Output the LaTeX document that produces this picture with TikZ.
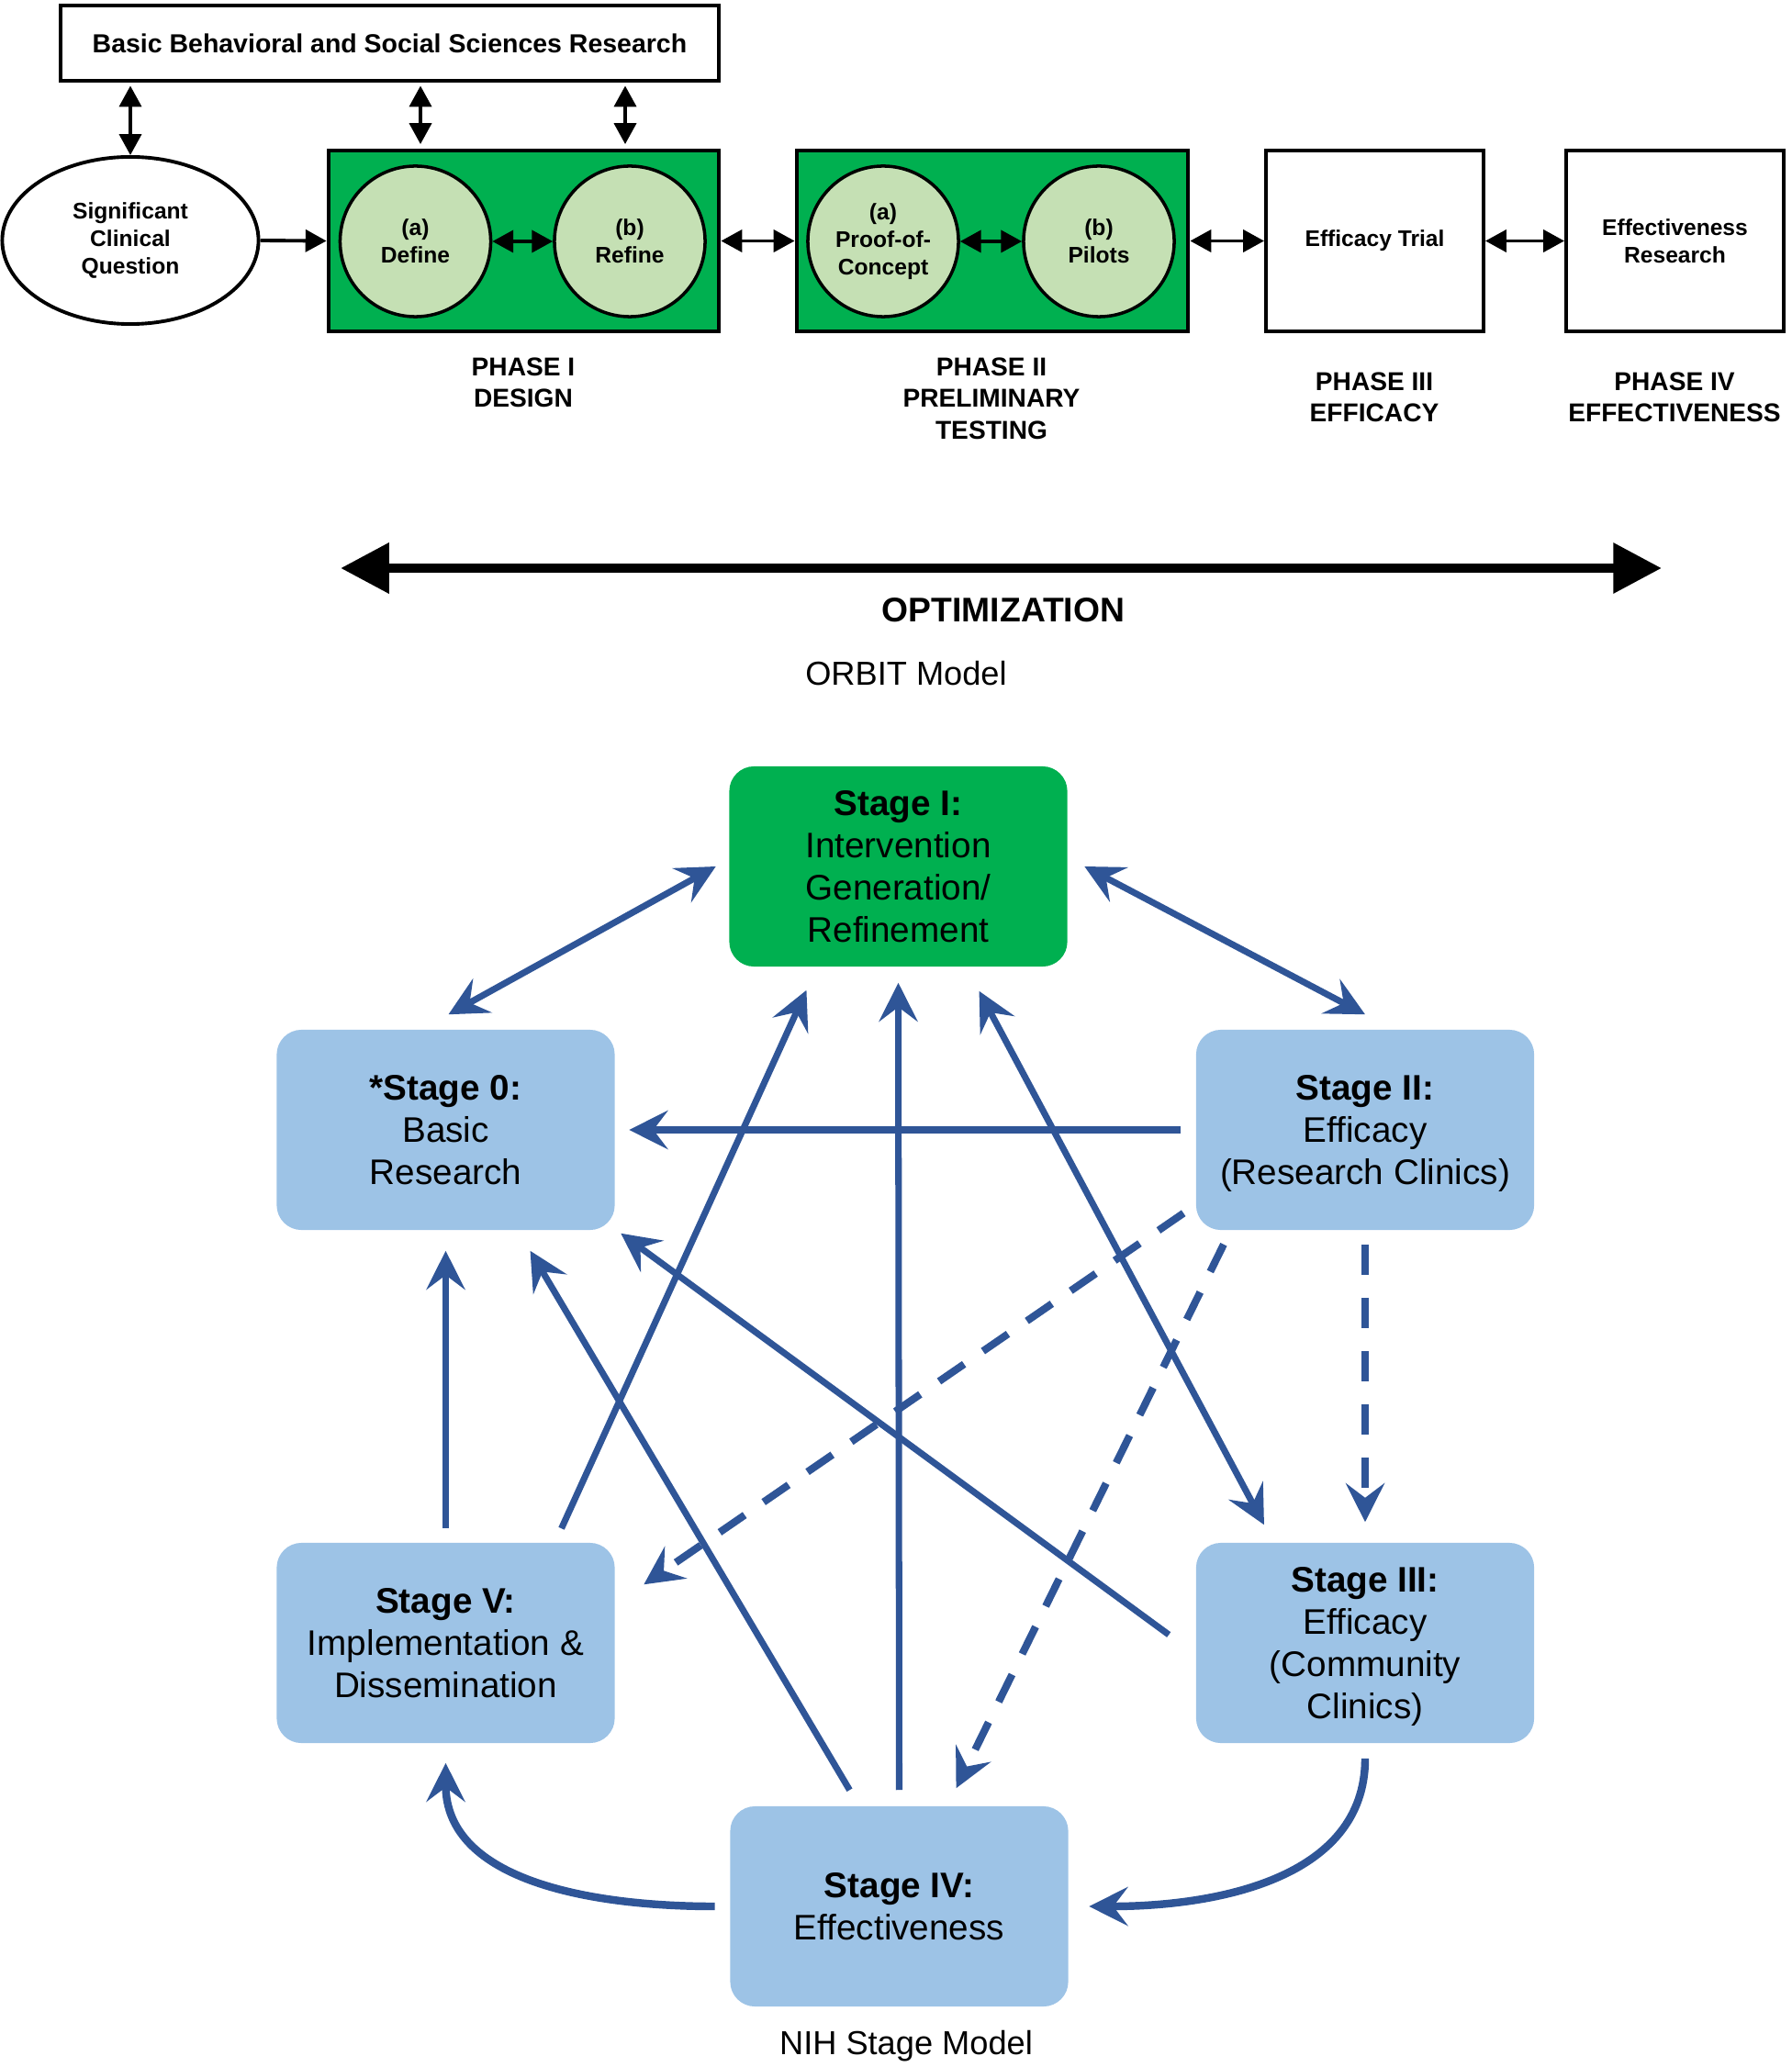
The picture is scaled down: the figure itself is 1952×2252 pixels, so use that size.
\documentclass[tikz,border=0pt]{standalone}
\usepackage{fontspec}
\setmainfont{Liberation Sans}
\usepackage{tikz}
\usetikzlibrary{positioning}
\usetikzlibrary{arrows.meta}
\usetikzlibrary{shapes.geometric}
\definecolor{stagegreen}{HTML}{00B050}
\definecolor{circgreen}{HTML}{C5E0B4}
\definecolor{stageblue}{HTML}{9DC3E6}
\definecolor{arrowblue}{HTML}{2F5597}
\newcommand{\nodepth}[1]{\raisebox{0pt}[\height][0pt]{#1}}
\tikzset{
topbox/.style={ % Sets the properties for the plain boxes of the ORBIT part
draw, line width=1.1pt, fill=white,
align=center, font=\fontsize{7}{8.5}\selectfont\bfseries},
phasebox/.style={ % Green phase rectangles
draw, line width=1.3pt, fill=stagegreen,
minimum width=4.25cm, minimum height=1.97cm},
subphase/.style={ % Circles inside a phase
circle, draw, line width=1pt, fill=circgreen, inner sep=0pt,
minimum size=1.64cm, align=center, font=\fontsize{7}{8.5}\selectfont\bfseries},
phaselabel/.style={align=center, font=\fontsize{8}{9.8}\selectfont\bfseries},
link/.style={ % Black double arrows
black, line width=1.1pt,
{Triangle[length=6.5pt,width=6.8pt]}-{Triangle[length=6.5pt,width=6.8pt]}},
stage/.style={ % Sets the properties for each stage
rounded corners=0.27cm, fill=stageblue,
minimum width=3.68cm, minimum height=2.18cm,
align=center, font=\fontsize{11}{13.1}\selectfont},
flow/.style={ % Blue transitions
arrowblue, line width=2pt,
-{Stealth[length=12pt,width=12pt,inset=4.5pt]}},
flowboth/.style={flow,
{Stealth[length=12pt,width=12pt,inset=4.5pt]}-{Stealth[length=12pt,width=12pt,inset=4.5pt]}},
flowdash/.style={flow, line width=2.3pt, dash pattern=on 9.4pt off 7.1pt}}

\begin{document}
\begin{tikzpicture}[x=0.01cm, y=-0.01cm]
\useasboundingbox (0,0) rectangle (1952,2252);

\node[topbox, minimum width=7.17cm, minimum height=0.82cm,
  font=\fontsize{8.1}{9.6}\selectfont\bfseries] (basic) at (424.5,47) {Basic Behavioral and Social Sciences Research};
\node[topbox, ellipse, minimum width=2.79cm, minimum height=1.82cm] (sig) at (142,262) {Significant\\Clinical\\Question};
\node[phasebox] (ph1) at (570.5,262.5) {};
\node[subphase] (define) at (452.5,263) {(a)\\Define};
\node[subphase] (refine) at (686,263) {(b)\\Refine};
\node[phasebox, minimum width=4.26cm] (ph2) at (1081,262.5) {};
\node[subphase] (poc) at (962,263) {(a)\\Proof-of-\\Concept};
\node[subphase] (pilots) at (1197,263) {(b)\\Pilots};
\node[topbox, minimum width=2.37cm, minimum height=1.97cm] (effic) at (1497.5,262.5) {Efficacy Trial};
\node[topbox, minimum width=2.37cm, minimum height=1.97cm] (effect) at (1824.5,262.5) {Effectiveness\\Research};

\node[phaselabel] (lab1) at (570,417) {PHASE I\\DESIGN};
\node[phaselabel] (lab2) at (1080,434) {PHASE II\\PRELIMINARY\\TESTING};
\node[phaselabel] (lab3) at (1497,433) {PHASE III\\EFFICACY};
\node[phaselabel] (lab4) at (1824,433) {PHASE IV\\EFFECTIVENESS};

\coordinate (dtop) at ([xshift=0.55mm]define.north);
\coordinate (rtop) at ([xshift=-0.5mm]refine.north);
\draw[link, shorten <=1pt] (sig.north |- basic.south) -- (sig.north);
\draw[link, shorten <=1pt, shorten >=1.3pt] (dtop |- basic.south) -- (dtop |- ph1.north);
\draw[link, shorten <=1pt, shorten >=1.3pt] (rtop |- basic.south) -- (rtop |- ph1.north);
\draw[link, -{Triangle[length=6.5pt,width=6.8pt]}] (sig.east) -- (ph1.west);
\draw[link] (define) -- (refine);
\draw[link] (ph1) -- (ph2);
\draw[link] (poc) -- (pilots);
\draw[link] (ph2) -- (effic);
\draw[link] (effic) -- (effect);

\coordinate (optL) at (371,619);
\coordinate (optR) at (1810,619);
\draw[line width=3pt, {Triangle[length=15pt,width=15pt]}-{Triangle[length=15pt,width=15pt]}] (optL) -- (optR);
\node[font=\fontsize{10.6}{12}\selectfont\bfseries] (optim) at (1093,665) {OPTIMIZATION};
\node[font=\fontsize{10.3}{12}\selectfont] (orbit) at (987,734) {ORBIT Model};

\node[stage, fill=stagegreen] (s1) at (978.5,944) {\textbf{Stage I:}\\Intervention\\Generation/\\Refinement};
\node[stage] (s0) at (485.5,1231) {\textbf{*Stage 0:}\\Basic\\Research};
\node[stage] (s2) at (1487,1231) {\textbf{Stage II:}\\Efficacy\\\nodepth{(Research Clinics)}};
\node[stage] (s5) at (485.5,1790) {\textbf{Stage V:}\\Implementation \&\\Dissemination};
\node[stage] (s3) at (1487,1790) {\textbf{Stage III:}\\Efficacy\\(Community\\\nodepth{Clinics)}};
\node[stage] (s4) at (979.5,2077) {\textbf{Stage IV:}\\Effectiveness};
\node[font=\fontsize{10.3}{12}\selectfont] (nih) at (987,2229) {NIH Stage Model};

\draw[flowboth] ([xshift=0.3mm,yshift=1.6mm]s0.north) -- ([xshift=-1.4mm]s1.west);
\draw[flowboth] ([xshift=1.8mm]s1.east) -- ([yshift=1.6mm]s2.north);
\draw[flow, line width=2.3pt] ([xshift=-1.6mm]s2.west) -- ([xshift=1.5mm]s0.east);
\draw[flow] ([xshift=12.6mm,yshift=1.5mm]s5.north) -- ([xshift=-10mm,yshift=-2.5mm]s1.south);
\draw[flow] ([yshift=1.7mm]s4.north) -- ([yshift=-1.7mm]s1.south);
\draw[flowboth] ([xshift=8.8mm,yshift=-2.6mm]s1.south) -- ([xshift=-11mm,yshift=1.9mm]s3.north);
\draw[flow] ([xshift=-5.4mm,yshift=1.7mm]s4.north) -- ([xshift=9.2mm,yshift=-2.2mm]s0.south);
\draw[flow] ([xshift=-2.9mm,yshift=0.9mm]s3.west) -- ([xshift=0.6mm,yshift=-0.3mm]s0.south east);
\draw[flow] ([yshift=1.5mm]s5.north) -- ([yshift=-2.2mm]s0.south);
\draw[flowdash] ([xshift=-1.3mm,yshift=1.9mm]s2.south west) -- ([xshift=3.1mm,yshift=-4.6mm]s5.north east);
\draw[flowdash] ([xshift=-15.4mm,yshift=-1.5mm]s2.south) -- ([xshift=6.2mm,yshift=1.9mm]s4.north);
\draw[flowdash] ([yshift=-1.5mm]s2.south) -- ([yshift=2.2mm]s3.north);
\draw[flow, line width=2.4pt] ([yshift=-1.6mm]s3.south) to[out=-90,in=0] ([xshift=2.2mm]s4.east);
\draw[flow, line width=2.4pt] ([xshift=-1.6mm]s4.west) to[out=180,in=-90] ([yshift=-2.1mm]s5.south);
\end{tikzpicture}
\end{document}
